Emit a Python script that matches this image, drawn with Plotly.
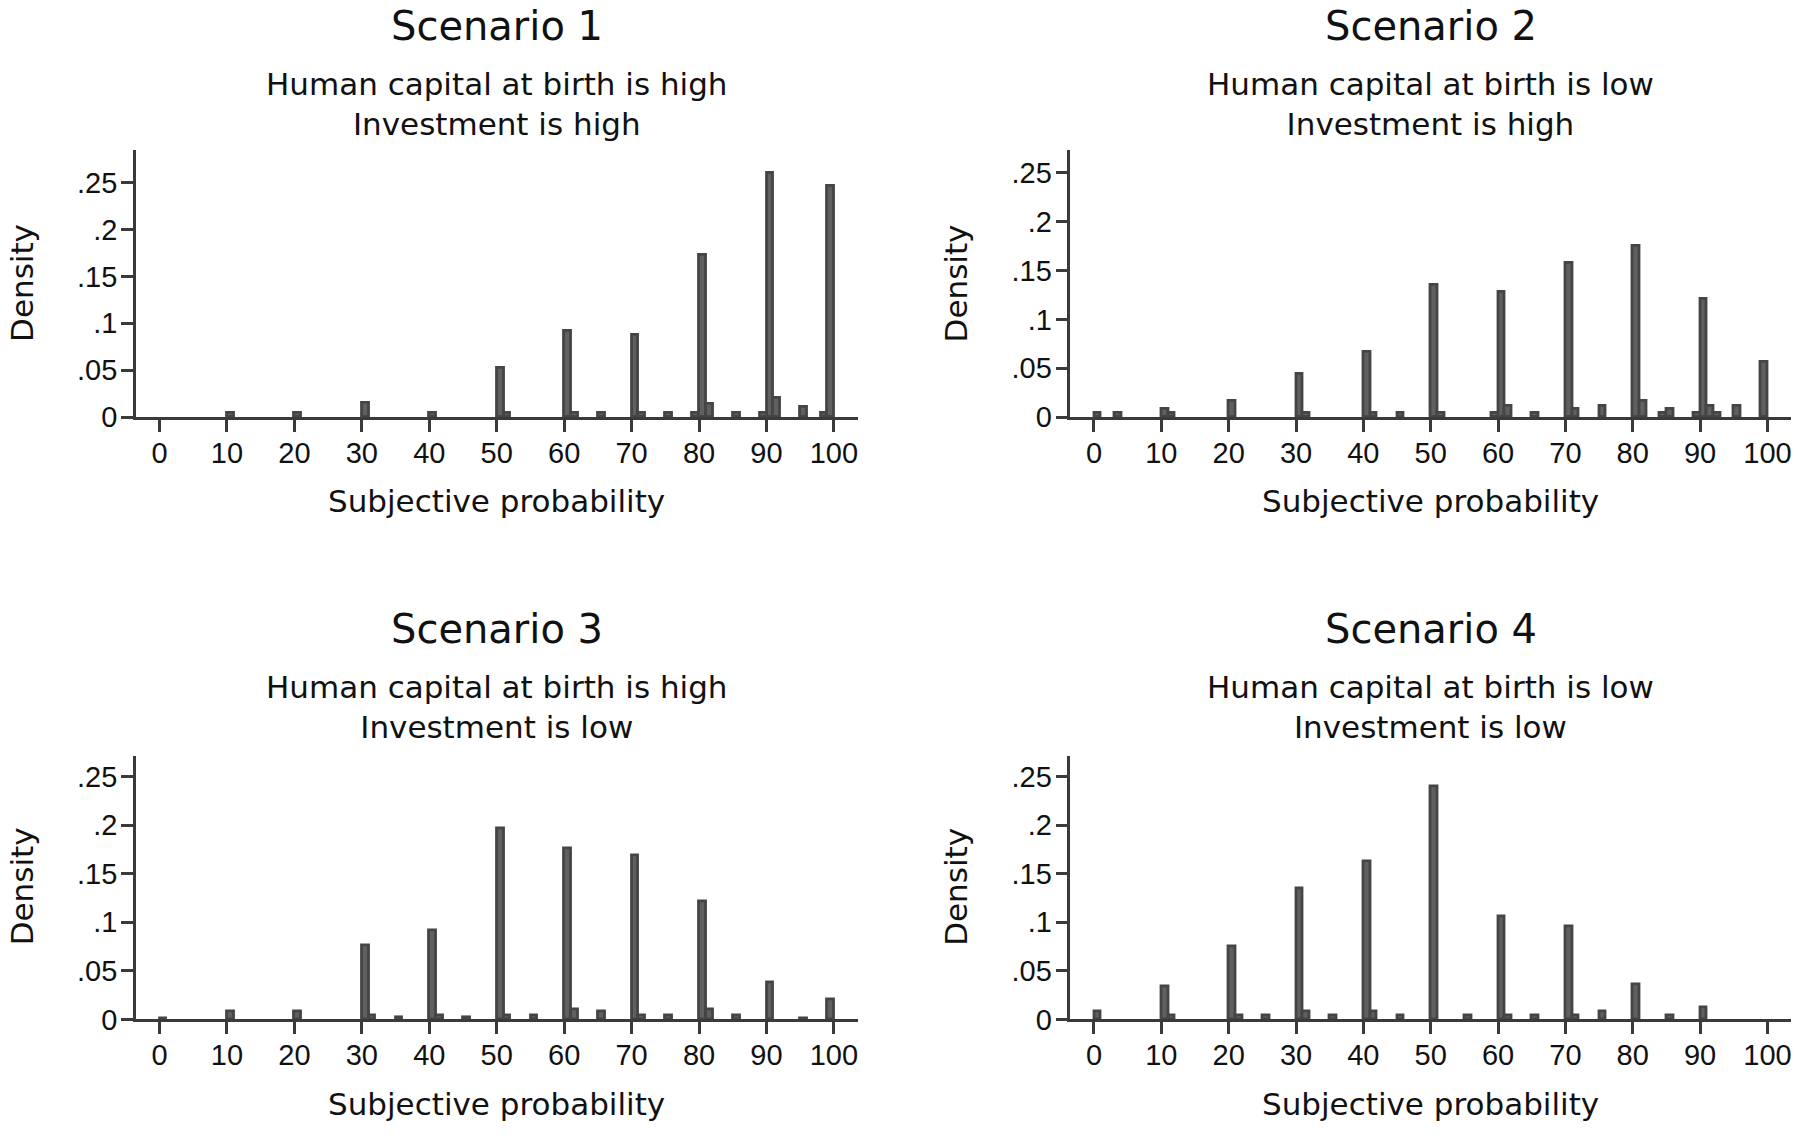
import plotly.graph_objects as go

W, H = 1800, 1139

# ---------------- data (histogram bins of width 1: lower edge -> density) ----------
bins_s1 = [10, 20, 30, 40, 50, 51, 60, 61, 65, 70, 71, 75, 79, 80, 81, 85, 89, 90, 91, 95, 98, 99]
dens_s1 = [0.004, 0.004, 0.015, 0.004, 0.053, 0.004, 0.092, 0.004, 0.004, 0.088, 0.005, 0.004,
           0.004, 0.173, 0.014, 0.004, 0.004, 0.261, 0.021, 0.011, 0.004, 0.247]

bins_s2 = [0, 3, 10, 11, 20, 30, 31, 40, 41, 45, 50, 51, 59, 60, 61, 65, 70, 71, 75, 80, 81,
           84, 85, 89, 90, 91, 92, 95, 99]
dens_s2 = [0.004, 0.004, 0.008, 0.004, 0.017, 0.044, 0.004, 0.067, 0.004, 0.004, 0.135, 0.004,
           0.004, 0.128, 0.011, 0.004, 0.158, 0.008, 0.011, 0.175, 0.017, 0.004, 0.008, 0.004,
           0.121, 0.011, 0.004, 0.011, 0.057]

bins_s3 = [0, 10, 20, 30, 31, 35, 40, 41, 45, 50, 51, 55, 60, 61, 65, 70, 71, 75, 80, 81, 85,
           90, 95, 99]
dens_s3 = [0.001, 0.008, 0.008, 0.076, 0.004, 0.002, 0.092, 0.004, 0.002, 0.197, 0.004, 0.004,
           0.176, 0.011, 0.008, 0.169, 0.004, 0.004, 0.122, 0.011, 0.004, 0.038, 0.001, 0.021]

bins_s4 = [0, 10, 11, 20, 21, 25, 30, 31, 35, 40, 41, 45, 50, 55, 60, 61, 65, 70, 71, 75, 80,
           85, 90]
dens_s4 = [0.008, 0.034, 0.004, 0.075, 0.004, 0.004, 0.135, 0.008, 0.004, 0.163, 0.008, 0.004,
           0.240, 0.004, 0.106, 0.004, 0.004, 0.096, 0.004, 0.008, 0.036, 0.004, 0.013]

x_tickvals = [0, 10, 20, 30, 40, 50, 60, 70, 80, 90, 100]
y_tickvals = [0, 0.05, 0.1, 0.15, 0.2, 0.25]
y_ticktext = ["0", ".05", ".1", ".15", ".2", ".25"]

titles = ["Scenario 1", "Scenario 2", "Scenario 3", "Scenario 4"]
sub_line1 = ["Human capital at birth is high", "Human capital at birth is low",
             "Human capital at birth is high", "Human capital at birth is low"]
sub_line2 = ["Investment is high", "Investment is high", "Investment is low", "Investment is low"]
y_title = "Density"
x_title = "Subjective probability"

# ---------------- styling ----------------
TICKFONT = "Liberation Sans, Arial, sans-serif"
TEXTFONT = "DejaVu Sans, Liberation Sans, sans-serif"
TXT = "#111111"
AX = "#3a3a3a"
BAR_FILL = "#606060"
BAR_LINE = "#454545"

# pixel boxes: (left, right, top, bottom(y=0), y max)
boxes = [
    (136, 858, 152, 423, 0.285),
    (1071, 1792, 152, 423, 0.2735),
    (136, 858, 767, 1034, 0.271),
    (1071, 1792, 767, 1034, 0.271),
]
data = [(bins_s1, dens_s1), (bins_s2, dens_s2), (bins_s3, dens_s3), (bins_s4, dens_s4)]


def px(x):
    return x / W


def py(y):
    return 1 - y / H


fig = go.Figure()
annotations = []
layout_axes = {}

for i, ((b, d), (l, r, t, bt, ymax)) in enumerate(zip(data, boxes)):
    n = i + 1
    xa = "x" if n == 1 else f"x{n}"
    ya = "y" if n == 1 else f"y{n}"
    fig.add_trace(go.Bar(
        x=[v + 0.5 for v in b], y=d, width=[1] * len(b),
        xaxis=xa, yaxis=ya,
        marker=dict(color=BAR_FILL, line=dict(color=BAR_LINE, width=2.8)),
        showlegend=False, hoverinfo="x+y",
    ))
    xkey = "xaxis" if n == 1 else f"xaxis{n}"
    ykey = "yaxis" if n == 1 else f"yaxis{n}"
    layout_axes[xkey] = dict(
        domain=[px(l), px(r)], anchor=ya, range=[-3.5, 103.5],
        showline=True, linecolor=AX, linewidth=2.5,
        ticks="outside", ticklen=12, tickwidth=2.5, tickcolor=AX,
        tickvals=x_tickvals, tickfont=dict(family=TICKFONT, size=29, color=TXT),
        ticklabelstandoff=-4,
        showgrid=False, zeroline=False, fixedrange=True,
    )
    layout_axes[ykey] = dict(
        domain=[py(bt), py(t)], anchor=xa, range=[0, ymax],
        showline=True, linecolor=AX, linewidth=2.5,
        ticks="outside", ticklen=12, tickwidth=2.5, tickcolor=AX,
        tickvals=y_tickvals, ticktext=y_ticktext,
        tickfont=dict(family=TICKFONT, size=29, color=TXT), ticklabelstandoff=-2,
        showgrid=False, zeroline=False, fixedrange=True,
    )
    cx = (l + r) / 2
    off = 0 if n <= 2 else 612
    annotations.append(dict(text=titles[i], x=px(cx), y=py(26 + off), xref="paper", yref="paper",
                            xanchor="center", yanchor="middle", showarrow=False,
                            font=dict(family=TEXTFONT, size=40, color=TXT)))
    annotations.append(dict(text=sub_line1[i] + "<br>" + sub_line2[i], x=px(cx), y=py(105 + off),
                            xref="paper", yref="paper",
                            xanchor="center", yanchor="middle", showarrow=False,
                            font=dict(family=TEXTFONT, size=31, color=TXT)))
    annotations.append(dict(text=x_title, x=px(cx), y=py(508 + off), xref="paper", yref="paper",
                            xanchor="center", yanchor="middle", showarrow=False,
                            font=dict(family=TEXTFONT, size=31, color=TXT)))
    annotations.append(dict(text=y_title, x=px(l - 114), y=py(287 + off), xref="paper", yref="paper",
                            xanchor="center", yanchor="middle", showarrow=False, textangle=-90,
                            font=dict(family=TEXTFONT, size=31, color=TXT)))

fig.update_layout(
    width=W, height=H,
    margin=dict(l=0, r=0, t=0, b=0),
    paper_bgcolor="white", plot_bgcolor="white",
    bargap=0, barmode="overlay",
    annotations=annotations,
    **layout_axes,
)

fig.write_html("out.html", config={"displayModeBar": False},
               post_script="document.body.style.margin='0';document.body.style.overflow='hidden';")
